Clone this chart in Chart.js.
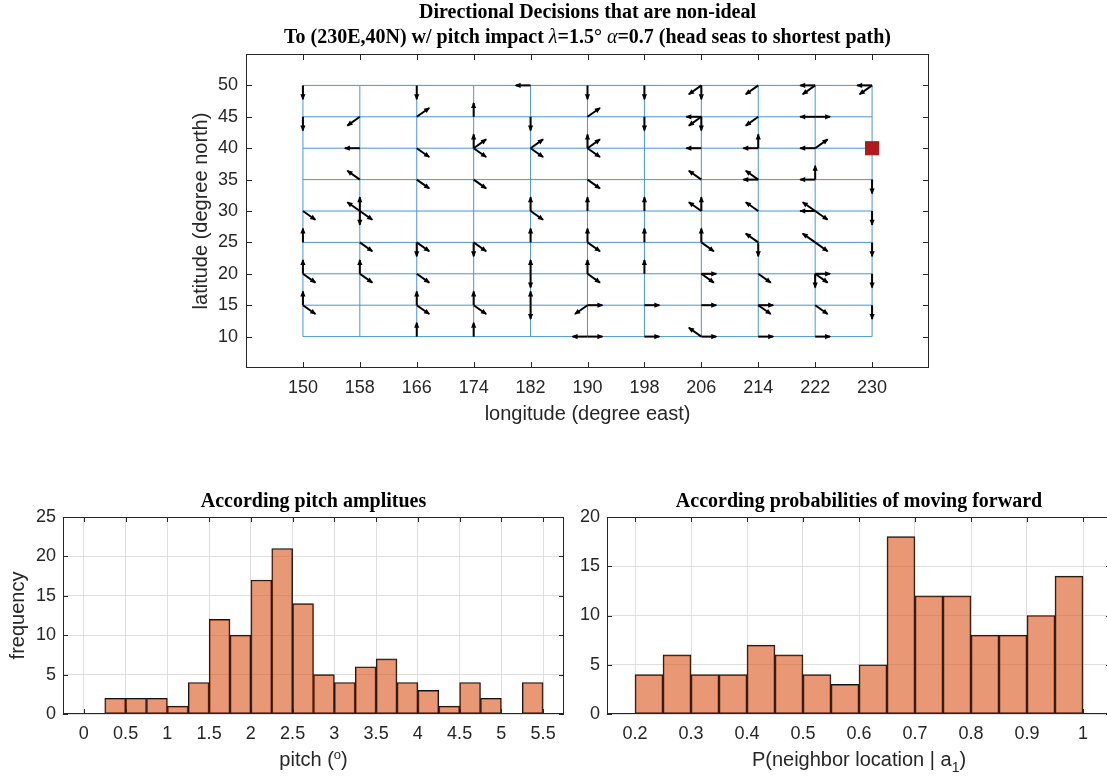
<!DOCTYPE html>
<html><head><meta charset="utf-8">
<script src="https://cdn.jsdelivr.net/npm/chart.js@4/dist/chart.umd.min.js"></script>
<style>
html,body{margin:0;padding:0;background:#fff;overflow:hidden;width:1107px;height:779px;position:relative;}
canvas{position:absolute;}
</style></head><body>
<canvas id="top" width="1107" height="440" style="left:0;top:0;width:1107px;height:440px"></canvas>
<canvas id="h1" width="570" height="299" style="left:0;top:480px;width:570px;height:299px"></canvas>
<canvas id="h2" width="560" height="299" style="left:570px;top:480px;width:560px;height:299px"></canvas>
<script>
// ---------------- DATA ----------------
const gridLons = [150,158,166,174,182,190,198,206,214,222,230];
const gridLats = [10,15,20,25,30,35,40,45,50];
const lonTicks = [150,158,166,174,182,190,198,206,214,222,230];
const latTicks = [10,15,20,25,30,35,40,45,50];
const targetLon = [230];
const targetLat = [40];

// arrows: grid node (lon, lat) and direction of the decision
const arrowLon = [
 150,150,150,150,150,150,150,150,
 158,158,158,158,158,158,158,158,158,158,
 166,166,166,166,166,166,166,166,166,166,
 174,174,174,174,174,174,174,174,174,174,
 182,182,182,182,182,182,182,182,182,182,182,
 190,190,190,190,190,190,190,190,190,190,190,190,190,190,190,
 198,198,198,198,198,198,198,
 206,206,206,206,206,206,206,206,206,206,206,206,206,206,206,206,
 214,214,214,214,214,214,214,214,214,214,214,214,214,
 222,222,222,222,222,222,222,222,222,222,222,222,222,222,222,222,222,222,
 230,230,230,230,230,230,230];
const arrowLat = [
 50,45,30,25,20,20,15,15,
 45,40,35,30,30,30,30,25,20,20,
 50,45,40,35,25,25,20,15,15,10,
 45,40,40,40,35,25,25,15,15,10,
 50,45,40,40,30,30,25,20,20,15,15,
 50,45,40,40,40,35,30,25,25,20,20,15,15,10,10,
 50,45,30,25,20,15,10,
 50,50,45,45,45,40,35,30,30,25,25,20,20,15,10,10,
 50,45,40,40,35,35,30,25,25,20,15,15,10,
 50,50,45,45,40,40,35,35,30,30,30,25,25,20,20,20,15,10,
 50,50,35,30,25,20,15];
const arrowDir = [
 'S','S','SE','N','N','SE','N','SE',
 'SW','W','NW','N','S','NW','SE','SE','N','SE',
 'S','NE','SE','SE','S','SE','SE','N','SE','N',
 'N','N','NE','SE','SE','S','SE','N','SE','N',
 'W','S','NE','SE','N','SE','N','N','S','N','S',
 'S','NE','N','NE','SE','SE','N','N','SE','N','SE','E','SW','W','E',
 'S','S','N','N','N','E','E',
 'S','SW','W','SW','S','W','NW','N','NW','N','SE','E','SE','E','NW','E',
 'SW','SW','N','W','W','NW','NW','NW','S','SE','E','SE','E',
 'W','SW','W','E','W','NE','N','W','W','NW','SE','NW','SE','S','E','SE','SE','E',
 'W','SW','S','S','S','S','S'];
// arrow vector (lon, lat) per direction
const dirVec = {N:[0,2.2],S:[0,-2.2],E:[2.1,0],W:[-2.1,0],NE:[1.75,1.4],NW:[-1.75,1.4],SE:[1.75,-1.4],SW:[-1.75,-1.4]};

const pitchEdges = [0,0.25,0.5,0.75,1,1.25,1.5,1.75,2,2.25,2.5,2.75,3,3.25,3.5,3.75,4,4.25,4.5,4.75,5,5.25,5.5];
const pitchCounts = [0,2,2,2,1,4,12,10,17,21,14,5,4,6,7,4,3,1,4,2,0,4];
const pitchTicks = [0,0.5,1,1.5,2,2.5,3,3.5,4,4.5,5,5.5];
const freqTicks1 = [0,5,10,15,20,25];

const probEdges = [0.2,0.25,0.3,0.35,0.4,0.45,0.5,0.55,0.6,0.65,0.7,0.75,0.8,0.85,0.9,0.95,1.0];
const probCounts = [4,6,4,4,7,6,4,3,5,18,12,12,8,8,10,14];
const probTicks = [0.2,0.3,0.4,0.5,0.6,0.7,0.8,0.9,1];
const freqTicks2 = [0,5,10,15,20];

// ---------------- STYLE ----------------
const TXT = '#262626';
const SANS = '"Liberation Sans", Arial, sans-serif';
const SERIF = '"Liberation Serif", "Times New Roman", serif';
Chart.defaults.font.family = SANS;
Chart.defaults.color = TXT;

function drawSegs(ctx, segs, cx, y, color){
  let total = 0;
  segs.forEach(s=>{ctx.font=s.f; s.w=ctx.measureText(s.t).width; total+=s.w;});
  let x = cx - total/2;
  ctx.textAlign='left'; ctx.textBaseline='middle'; ctx.fillStyle=color||'#000';
  segs.forEach(s=>{ctx.font=s.f; ctx.fillText(s.t, x, y + (s.dy||0)); x+=s.w;});
}
function drawBox(chart, tl){
  const {ctx, chartArea:a, scales} = chart;
  ctx.save();
  ctx.strokeStyle = TXT; ctx.lineWidth = 1;
  ctx.strokeRect(Math.round(a.left)+0.5, Math.round(a.top)+0.5, Math.round(a.right-a.left)-1, Math.round(a.bottom-a.top)-1);
  ctx.beginPath();
  scales.x.ticks.forEach(t=>{const p=Math.round(scales.x.getPixelForValue(t.value))+0.5;
    ctx.moveTo(p,a.bottom); ctx.lineTo(p,a.bottom-tl); ctx.moveTo(p,a.top); ctx.lineTo(p,a.top+tl);});
  scales.y.ticks.forEach(t=>{const p=Math.round(scales.y.getPixelForValue(t.value))+0.5;
    ctx.moveTo(a.left,p); ctx.lineTo(a.left+tl,p); ctx.moveTo(a.right,p); ctx.lineTo(a.right-tl,p);});
  ctx.stroke();
  ctx.restore();
}
function tickFmt(v){ return String(Math.round(v*100)/100); }

// ---------------- TOP CHART ----------------
const gridSets = [];
gridLats.forEach(lat=>gridSets.push({data:[{x:gridLons[0],y:lat},{x:gridLons[gridLons.length-1],y:lat}]}));
gridLons.forEach(lon=>gridSets.push({data:[{x:lon,y:gridLats[0]},{x:lon,y:gridLats[gridLats.length-1]}]}));
gridSets.forEach(d=>Object.assign(d,{showLine:true,borderColor:'#4b95d0',borderWidth:1,pointRadius:0,order:3}));

const arrowSets = arrowLon.map((lon,i)=>{
  const v = dirVec[arrowDir[i]], lat = arrowLat[i];
  return {data:[{x:lon,y:lat},{x:lon+v[0],y:lat+v[1]}], showLine:true, borderColor:'#000',
          borderWidth:2, pointRadius:0, isArrow:true, order:2};
});
const targetSet = {data: targetLon.map((x,i)=>({x, y:targetLat[i]})), showLine:false, pointStyle:'rect',
  pointRadius:10, backgroundColor:'#b2191c', borderColor:'#b2191c', borderWidth:0, order:0};

const topPlugin = {
  id:'topDeco',
  afterDatasetsDraw(chart){
    const ctx = chart.ctx;
    ctx.save(); ctx.fillStyle='#000';
    chart.data.datasets.forEach((ds,i)=>{
      if(!ds.isArrow) return;
      const m = chart.getDatasetMeta(i); const p0=m.data[0], p1=m.data[1];
      const ang = Math.atan2(p1.y-p0.y, p1.x-p0.x);
      const L=5, W=2.6, c=Math.cos(ang), s=Math.sin(ang);
      ctx.beginPath();
      ctx.moveTo(p1.x+c*1, p1.y+s*1);
      ctx.lineTo(p1.x - c*L - s*W, p1.y - s*L + c*W);
      ctx.lineTo(p1.x - c*L + s*W, p1.y - s*L - c*W);
      ctx.closePath(); ctx.fill();
    });
    ctx.restore();
  },
  afterDraw(chart){
    drawBox(chart, 6);
    const ctx = chart.ctx, a = chart.chartArea, cx=(a.left+a.right)/2;
    ctx.save();
    drawSegs(ctx,[{t:'Directional Decisions that are non-ideal', f:'bold 20px '+SERIF}], cx, 13);
    drawSegs(ctx,[
      {t:'To (230E,40N) w/ pitch impact ', f:'bold 20px '+SERIF},
      {t:'λ', f:'italic 20px '+SERIF},
      {t:'=1.5° ', f:'bold 20px '+SERIF},
      {t:'α', f:'italic 20px '+SERIF},
      {t:'=0.7 (head seas to shortest path)', f:'bold 20px '+SERIF}], cx, 38);
    ctx.fillStyle=TXT; ctx.font='20px '+SANS; ctx.textAlign='center'; ctx.textBaseline='middle';
    ctx.fillText('longitude (degree east)', cx, 414);
    ctx.translate(201,(a.top+a.bottom)/2); ctx.rotate(-Math.PI/2);
    ctx.fillText('latitude (degree north)', 0, 0);
    ctx.restore();
  }
};

new Chart(document.getElementById('top'), {
  type:'scatter',
  data:{datasets:[...gridSets, ...arrowSets, targetSet]},
  options:{
    responsive:false, animation:false, devicePixelRatio:1, events:[],
    layout:{padding:{left:206, right:178, top:54, bottom:12}},
    plugins:{legend:{display:false}, tooltip:{enabled:false}},
    scales:{
      x:{type:'linear', min:142, max:238,
         afterBuildTicks:s=>{s.ticks=lonTicks.map(v=>({value:v}));},
         afterFit:s=>{s.height=60;},
         grid:{display:false, tickLength:0}, border:{display:false},
         ticks:{font:{size:18}, color:TXT, padding:9, maxRotation:0, autoSkip:false, callback:tickFmt}},
      y:{type:'linear', min:5, max:55,
         afterBuildTicks:s=>{s.ticks=latTicks.map(v=>({value:v}));},
         afterFit:s=>{s.width=40;},
         grid:{display:false, tickLength:0}, border:{display:false},
         ticks:{font:{size:18}, color:TXT, padding:8, autoSkip:false, callback:tickFmt}}
    }
  },
  plugins:[topPlugin]
});

// ---------------- HISTOGRAMS ----------------
function histChart(id, edges, counts, xTicks, yTicks, xmin, xmax, ymax, pad, title, xlabelSegs, ylabel){
  const plugin = {
    id:'histDeco'+id,
    afterDraw(chart){
      drawBox(chart, 5);
      const ctx=chart.ctx, a=chart.chartArea, cx=(a.left+a.right)/2;
      ctx.save();
      drawSegs(ctx,[{t:title, f:'bold 20px '+SERIF}], cx, 22);
      drawSegs(ctx, xlabelSegs.map(s=>Object.assign({},s)), cx, 280, TXT);
      if(ylabel){
        ctx.fillStyle=TXT; ctx.font='20px '+SANS; ctx.textAlign='center'; ctx.textBaseline='middle';
        ctx.translate(18,(a.top+a.bottom)/2); ctx.rotate(-Math.PI/2);
        ctx.fillText(ylabel,0,0);
      }
      ctx.restore();
    }
  };
  return new Chart(document.getElementById(id), {
    type:'bar',
    data:{datasets:[{
      data: counts.map((c,i)=>({x:(edges[i]+edges[i+1])/2, y:c})),
      backgroundColor:'rgba(217,83,25,0.6)', borderColor:'#111', borderWidth:1, borderSkipped:false,
      barPercentage:1, categoryPercentage:1, grouped:false
    }]},
    options:{
      responsive:false, animation:false, devicePixelRatio:1, events:[],
      layout:{padding:pad},
      plugins:{legend:{display:false}, tooltip:{enabled:false}},
      scales:{
        x:{type:'linear', min:xmin, max:xmax, offset:false,
           afterBuildTicks:s=>{s.ticks=xTicks.map(v=>({value:v}));},
           afterFit:s=>{s.height=40;},
           grid:{color:'rgb(223,223,223)', drawTicks:false, tickLength:0, offset:false}, border:{display:false},
           ticks:{font:{size:18}, color:TXT, padding:9, maxRotation:0, autoSkip:false, callback:tickFmt}},
        y:{type:'linear', min:0, max:ymax,
           afterBuildTicks:s=>{s.ticks=yTicks.map(v=>({value:v}));},
           afterFit:s=>{s.width=30;},
           grid:{color:'rgb(223,223,223)', drawTicks:false, tickLength:0}, border:{display:false},
           ticks:{font:{size:18}, color:TXT, padding:7, autoSkip:false, callback:tickFmt}}
      }
    },
    plugins:[plugin]
  });
}

histChart('h1', pitchEdges, pitchCounts, pitchTicks, freqTicks1, -0.25, 5.75, 25,
  {left:33, right:6, top:37, bottom:25}, 'According pitch amplitues',
  [{t:'pitch (', f:'20px '+SANS},{t:'o', f:'13px '+SANS, dy:-5},{t:')', f:'20px '+SANS}], 'frequency');
histChart('h2', probEdges, probCounts, probTicks, freqTicks2, 0.15, 1.05, 20,
  {left:7, right:19, top:37, bottom:25}, 'According probabilities of moving forward',
  [{t:'P(neighbor location | a', f:'20px '+SANS},{t:'1', f:'14px '+SANS, dy:8},{t:')', f:'20px '+SANS}], null);
</script>
</body></html>
